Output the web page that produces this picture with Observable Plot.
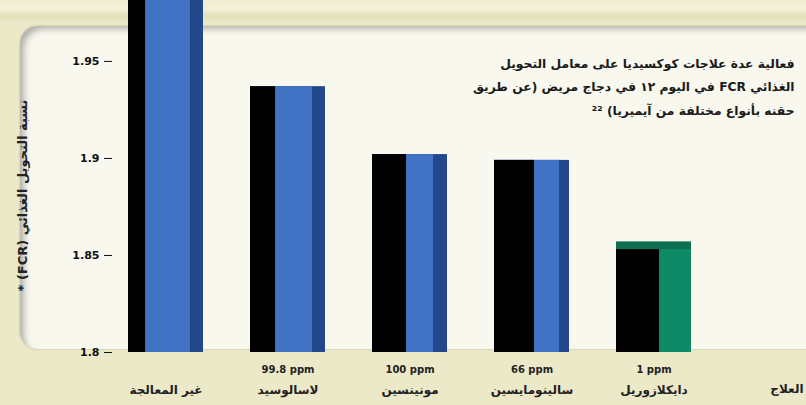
<!DOCTYPE html>
<html><head><meta charset="utf-8">
<script src="https://cdn.jsdelivr.net/npm/d3@7"></script>
<script src="https://cdn.jsdelivr.net/npm/@observablehq/plot@0.6"></script>
<style>
html,body{margin:0;padding:0}
body{width:806px;height:405px;overflow:hidden;position:relative;background:#ebe9c7;font-family:"DejaVu Sans",sans-serif}
#strip{position:absolute;left:0;top:0;width:806px;height:22px;background:linear-gradient(#eeedcf,#f2f1d8 40%,#e2e0b8 75%,#ebe9c7)}
#panel{position:absolute;left:20px;top:26px;width:820px;height:323px;background:#f9f8ee;border-radius:18px;
  box-shadow: inset 6px 5px 6px -2px rgba(90,90,90,0.45), 0 0 2px rgba(120,120,100,0.5)}
#chart{position:absolute;left:0;top:0}
</style></head>
<body>
<div id="strip"></div>
<div id="panel"></div>
<div id="chart"></div>
<script>
const categories = ["غير المعالجة","لاسالوسيد","مونينسين","سالينومايسين","دايكلازوريل"];
const doses = ["","99.8 ppm","100 ppm","66 ppm","1 ppm"];
const fcr = [2.0, 1.937, 1.902, 1.899, 1.854];
const yTicks = [1.8, 1.85, 1.9, 1.95];
const yLabel = "نسبة التحويل الغذائي (FCR) *";
const xLabel = "العلاج";
const captionLines = [
  "فعالية عدة علاجات كوكسيديا على معامل التحويل",
  "الغذائي FCR في اليوم ١٢ في دجاج مريض (عن طريق",
  "حقنه بأنواع مختلفة من آيميريا) ²²"
];

const data = categories.map((c, i) => ({cat: c, dose: doses[i], v: fcr[i], i}));

const W = 806, H = 405, mL = 112, mR = 99, mT = 0, mB = 53;
const padIn = 0.387, padOut = 0.127;
const bw = d3.scaleBand().domain(categories).range([mL, W - mR]).paddingInner(padIn).paddingOuter(padOut).bandwidth();

// perspective shading widths (style only)
const blackW = [17, 25, 34, 40, 43];
const darkW = [13, 13, 14, 10, 0];
const faceColor = i => i === 4 ? "#0f8a66" : "#4272c4";
const edgeColor = i => i === 4 ? "#0c7a5a" : "#22478a";
const base = () => 1.8;

const marks = [];
data.forEach(d => {
  const one = [d];
  marks.push(Plot.barY(one, {x: "cat", y1: base, y2: "v", fill: edgeColor(d.i), clip: true}));
  marks.push(Plot.barY(one, {x: "cat", y1: base, y2: "v", fill: faceColor(d.i), insetRight: darkW[d.i], clip: true}));
  marks.push(Plot.barY(one, {x: "cat", y1: base, y2: "v", fill: "#000", insetRight: bw - blackW[d.i], clip: true}));
});
// green top cap on last bar
marks.push(Plot.barY([data[4]], {x: "cat", y1: d => d.v - 0.001, y2: d => d.v + 0.003, fill: "#0d6e52", clip: true}));

marks.push(Plot.axisY({ticks: yTicks, tickFormat: d => String(+d.toFixed(2)), tickSize: 8, tickPadding: 5,
  fontWeight: "bold", fontSize: 11, label: null, stroke: "#111", color: "#111"}));

marks.push(Plot.text(data.filter(d => d.dose), {x: "cat", text: "dose", frameAnchor: "bottom", dy: 17, lineAnchor: "middle",
  fontWeight: "bold", fontSize: 10, fill: "#222"}));
marks.push(Plot.text(data, {x: "cat", text: "cat", frameAnchor: "bottom", dy: 38, lineAnchor: "middle",
  fontWeight: "bold", fontSize: 12, fill: "#222"}));

marks.push(Plot.text([xLabel], {frameAnchor: "bottom-right", dx: 96, dy: 37, textAnchor: "end", lineAnchor: "middle",
  fontWeight: "bold", fontSize: 12, fill: "#222"}));

marks.push(Plot.text(["\u202B" + yLabel + "\u202C"], {frameAnchor: "left", dx: -90, dy: 19, rotate: -90, textAnchor: "middle", lineAnchor: "middle",
  fontWeight: "bold", fontSize: 13, fill: "#222"}));

marks.push(Plot.text([captionLines.map(l => "\u202B" + l + "\u202C").join("\n")], {frameAnchor: "top-right", dx: 87, dy: 51,
  textAnchor: "end", lineAnchor: "top", lineHeight: 1.9, fontWeight: "bold", fontSize: 12.3, fill: "#1a1a1a"}));

const chart = Plot.plot({
  width: W, height: H,
  marginLeft: mL, marginRight: mR, marginTop: mT, marginBottom: mB,
  style: {background: "transparent", fontFamily: "DejaVu Sans", overflow: "visible"},
  x: {domain: categories, paddingInner: padIn, paddingOuter: padOut, axis: null},
  y: {domain: [1.8, 1.9814], axis: null},
  marks
});
document.getElementById("chart").appendChild(chart);
</script>
</body></html>
